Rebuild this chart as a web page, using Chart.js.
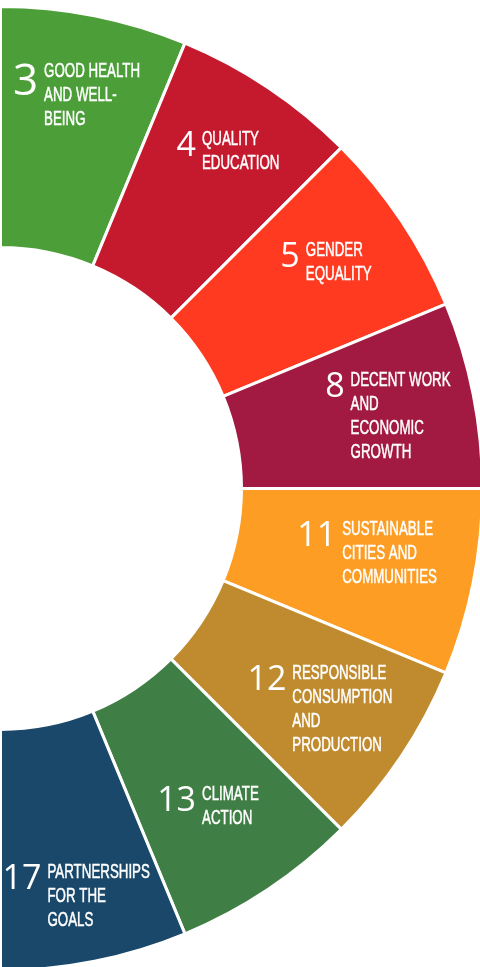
<!DOCTYPE html>
<html>
<head>
<meta charset="utf-8">
<script src="https://cdn.jsdelivr.net/npm/chart.js@4/dist/chart.umd.min.js"></script>
<style>
  html, body { margin: 0; padding: 0; background: #fff; overflow: hidden; }
  #wrap { width: 485px; height: 977px; position: relative; margin-left: -1px; }
</style>
</head>
<body>
<div id="wrap"><canvas id="sdg-wheel"></canvas></div>
<script>
// goals shown on the half wheel, top to bottom
const goalNumbers = ['3', '4', '5', '8', '11', '12', '13', '17'];
const goalTitles = [
  ['GOOD HEALTH', 'AND WELL-', 'BEING'],
  ['QUALITY', 'EDUCATION'],
  ['GENDER', 'EQUALITY'],
  ['DECENT WORK', 'AND', 'ECONOMIC', 'GROWTH'],
  ['SUSTAINABLE', 'CITIES AND', 'COMMUNITIES'],
  ['RESPONSIBLE', 'CONSUMPTION', 'AND', 'PRODUCTION'],
  ['CLIMATE', 'ACTION'],
  ['PARTNERSHIPS', 'FOR THE', 'GOALS'],
];
const goalShares = [1, 1, 1, 1, 1, 1, 1, 1];
const goalColors = ['#4c9f38', '#c5192d', '#ff3a21', '#a21942', '#fd9d24', '#bf8b2e', '#3f7e44', '#19486a'];

const goalLabels = {
  id: 'goalLabels',
  afterDatasetsDraw(chart, args, opts) {
    const ctx = chart.ctx;
    const meta = chart.getDatasetMeta(0);
    const textFont = opts.textSize + "px 'Liberation Sans Narrow', 'Liberation Sans', Arial, sans-serif";
    ctx.save();
    ctx.fillStyle = '#fff';
    ctx.strokeStyle = '#fff';
    ctx.lineWidth = 0.5;
    ctx.textBaseline = 'alphabetic';
    ctx.textAlign = 'left';
    ctx.font = textFont;
    // squeeze text to a condensed look
    const sx = opts.refWidth / ctx.measureText('GOOD HEALTH').width;
    const capText = ctx.measureText('H').actualBoundingBoxAscent;

    meta.data.forEach((arc, i) => {
      const p = arc.getProps(['x', 'y', 'startAngle', 'endAngle', 'outerRadius'], true);
      const mid = (p.startAngle + p.endAngle) / 2 + opts.turn[i] * Math.PI / 180;
      const r = p.outerRadius * opts.radial[i];
      const cx = p.x + Math.cos(mid) * r;
      const cy = p.y + Math.sin(mid) * r;

      const numFont = opts.numSizes[i] + "px 'Open Sans', sans-serif";
      ctx.font = numFont;
      const numW = ctx.measureText(goalNumbers[i]).width;
      const capNum = ctx.measureText('0').actualBoundingBoxAscent;

      ctx.font = textFont;
      const lines = goalTitles[i];
      const textW = Math.max(...lines.map(l => ctx.measureText(l).width)) * sx;
      const blockH = Math.max(capNum, (lines.length - 1) * opts.lineHeight + capText);
      const blockW = numW + opts.gap + textW;
      const left = cx - blockW / 2;
      const top = cy - blockH / 2;

      ctx.font = numFont;
      ctx.fillText(goalNumbers[i], left, top + capNum);

      ctx.font = textFont;
      lines.forEach((line, k) => {
        ctx.save();
        ctx.translate(left + numW + opts.gap, top + capText + k * opts.lineHeight);
        ctx.scale(sx, 1);
        ctx.fillText(line, 0, 0);
        ctx.strokeText(line, 0, 0);
        ctx.restore();
      });
    });
    ctx.restore();
  }
};

new Chart(document.getElementById('sdg-wheel'), {
  type: 'doughnut',
  data: {
    labels: goalNumbers,
    datasets: [{
      data: goalShares,
      backgroundColor: goalColors,
      borderColor: '#fff',
      borderWidth: 3,
    }],
  },
  options: {
    responsive: true,
    maintainAspectRatio: false,
    animation: false,
    rotation: 0,
    circumference: 180,
    cutout: '50%',
    layout: { padding: 0 },
    plugins: {
      legend: { display: false },
      tooltip: { enabled: false },
      goalLabels: {
        textSize: 20,
        refWidth: 96,
        lineHeight: 24,
        gap: 6,
        numSizes: [44, 34, 34, 34, 34, 34, 34, 34],
        radial: [0.834, 0.846, 0.824, 0.818, 0.772, 0.804, 0.785, 0.858],
        turn: [-0.35, 0.15, -1.2, 0.5, -1.4, 0.75, 0.5, 0.7],
      },
    },
  },
  plugins: [goalLabels],
});
</script>
</body>
</html>
